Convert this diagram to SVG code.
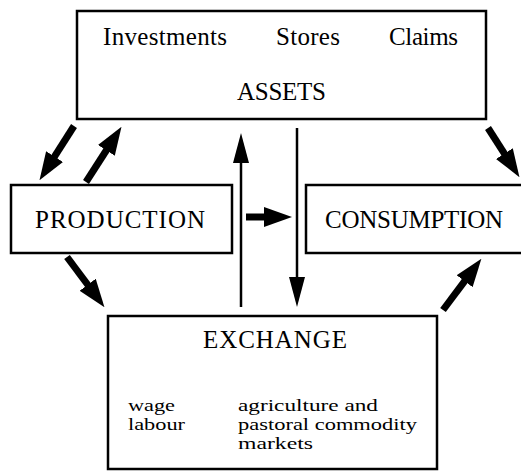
<svg xmlns="http://www.w3.org/2000/svg" width="521" height="472" viewBox="0 0 521 472">
<style>
.box{fill:#fff;stroke:#000;stroke-width:2.5}
.big{font-family:"Liberation Serif","Times New Roman",serif;font-size:25px;fill:#000}
.small{font-family:"Liberation Serif","Times New Roman",serif;font-size:17px;fill:#000}
.thick{stroke:#000;stroke-width:7;fill:none}
.thin{stroke:#000;stroke-width:2.5;fill:none}
</style>
<defs>
<marker id="headThick" markerUnits="userSpaceOnUse" viewBox="0 -10 28 20" refX="1" refY="0" markerWidth="28" markerHeight="20" orient="auto">
<path d="M0,-10 L28,0 L0,10 Z" fill="#000"/>
</marker>
<marker id="headThin" markerUnits="userSpaceOnUse" viewBox="0 -8 30 16" refX="1" refY="0" markerWidth="30" markerHeight="16" orient="auto">
<path d="M0,-8 L30,0 L0,8 Z" fill="#000"/>
</marker>
</defs>
<rect width="521" height="472" fill="#fff"/>
<g id="assets">
<rect class="box" x="77" y="11" width="409" height="108"/>
<text class="big" x="103" y="45" textLength="124">Investments</text>
<text class="big" x="276" y="45" textLength="64">Stores</text>
<text class="big" x="389" y="45" textLength="69">Claims</text>
<text class="big" x="237" y="100" textLength="89">ASSETS</text>
</g>
<g id="production">
<rect class="box" x="11" y="185" width="221" height="68"/>
<text class="big" x="35" y="228" textLength="170">PRODUCTION</text>
</g>
<g id="consumption">
<rect class="box" x="306" y="185" width="230" height="68"/>
<text class="big" x="325" y="228" textLength="178">CONSUMPTION</text>
</g>
<g id="exchange">
<rect class="box" x="108" y="316" width="329" height="153"/>
<text class="big" x="203" y="348" textLength="144">EXCHANGE</text>
<text class="small" x="128" y="411" textLength="47" lengthAdjust="spacingAndGlyphs">wage</text>
<text class="small" x="128" y="430" textLength="57" lengthAdjust="spacingAndGlyphs">labour</text>
<text class="small" x="238" y="411" textLength="140" lengthAdjust="spacingAndGlyphs">agriculture and</text>
<text class="small" x="238" y="430" textLength="179" lengthAdjust="spacingAndGlyphs">pastoral commodity</text>
<text class="small" x="238" y="449" textLength="75" lengthAdjust="spacingAndGlyphs">markets</text>
</g>
<g id="connectors">
<line class="thick" x1="74" y1="126" x2="54" y2="157.4" marker-end="url(#headThick)"/>
<line class="thick" x1="86" y1="182" x2="106.9" y2="149.5" marker-end="url(#headThick)"/>
<line class="thick" x1="488" y1="128" x2="504.9" y2="154.4" marker-end="url(#headThick)"/>
<line class="thick" x1="67" y1="257" x2="88.3" y2="285.5" marker-end="url(#headThick)"/>
<line class="thick" x1="443" y1="310" x2="465.2" y2="280.4" marker-end="url(#headThick)"/>
<line class="thick" x1="246" y1="217" x2="265" y2="217" marker-end="url(#headThick)"/>
<line class="thin" x1="241" y1="307" x2="241" y2="162" marker-end="url(#headThin)"/>
<line class="thin" x1="297" y1="128" x2="297" y2="278" marker-end="url(#headThin)"/>
</g>
</svg>
